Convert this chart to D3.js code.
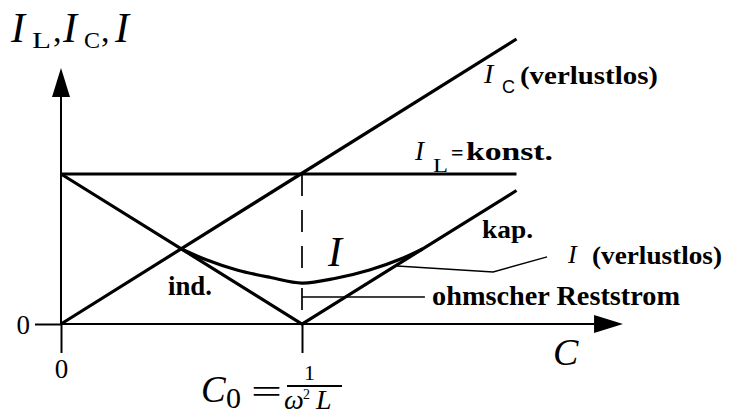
<!DOCTYPE html>
<html>
<head>
<meta charset="utf-8">
<script src="https://cdn.jsdelivr.net/npm/d3@7"></script>
<style>
  html, body { margin: 0; padding: 0; background: #fff; }
  svg { display: block; }
</style>
</head>
<body>
<svg id="chart" width="731" height="416"></svg>
<script>
// Parallel LC circuit: branch currents and total current versus capacitance C (C0 = 1).
const capEnds = [0, 1.89];                 // C range of the straight branch lines
const inductiveCurrent = [1, 1];           // I_L = konst.
const capacitiveCurrent = [0, 1.9];        // I_C (verlustlos), proportional to C
const losslessC = [0, 1, 1.89];
const losslessCurrent = [1, 0, 0.89];      // I (verlustlos) = |I_C - I_L|
const totalC = [0.5, 0.6, 0.73, 0.87, 1.0, 1.14, 1.28, 1.42, 1.5];
const totalCurrent = [0.5, 0.43, 0.36, 0.31, 0.273, 0.305, 0.36, 0.44, 0.5]; // I with ohmic losses
const residualCurrent = 0.273;             // ohmscher Reststrom at C0
const xTickValues = [0, 1];
const xTickLabels = ["0", ""];
const yTickValues = [0];
const yTickLabels = ["0"];

const svg = d3.select("#chart");
const x = d3.scaleLinear().domain([0, 1]).range([61, 302]);
const y = d3.scaleLinear().domain([0, 1]).range([324, 174]);

const SERIF = "'Liberation Serif', 'Times New Roman', serif";
const SANS = "'Liberation Sans', Arial, sans-serif";

// ---- axes ----
const xAxis = d3.axisBottom(x)
  .tickValues(xTickValues)
  .tickSize(y(-0.193) - y(0))
  .tickPadding(6)
  .tickFormat((d, i) => xTickLabels[i]);
const gx = svg.append("g").attr("transform", `translate(0,${y(0)})`).call(xAxis);
gx.select(".domain").remove();
gx.selectAll(".tick line").attr("stroke", "#000").attr("stroke-width", 2);
gx.selectAll(".tick text")
  .attr("font-family", SERIF).attr("font-size", 27).attr("fill", "#000");

const yAxis = d3.axisLeft(y)
  .tickValues(yTickValues)
  .tickSize(x(0) - x(-0.108))
  .tickPadding(5)
  .tickFormat((d, i) => yTickLabels[i]);
const gy = svg.append("g").attr("transform", `translate(${x(0)},0)`).call(yAxis);
gy.select(".domain").remove();
gy.selectAll(".tick line").attr("stroke", "#000").attr("stroke-width", 2);
gy.selectAll(".tick text")
  .attr("font-family", SERIF).attr("font-size", 27).attr("fill", "#000")
  .attr("dy", "0.36em");

const xArrowBase = 2.212, xArrowTip = 2.332;
const yArrowBase = 1.513, yArrowTip = 1.707;
const arrowHalf = 9;

svg.append("line")
  .attr("x1", x(0)).attr("x2", x(xArrowBase))
  .attr("y1", y(0)).attr("y2", y(0))
  .attr("stroke", "#000").attr("stroke-width", 2);
svg.append("path")
  .attr("d", `M${x(xArrowTip)},${y(0)} L${x(xArrowBase)},${y(0) - arrowHalf} L${x(xArrowBase)},${y(0) + arrowHalf} Z`)
  .attr("fill", "#000");

svg.append("line")
  .attr("x1", x(0)).attr("x2", x(0))
  .attr("y1", y(0)).attr("y2", y(yArrowBase))
  .attr("stroke", "#000").attr("stroke-width", 2);
svg.append("path")
  .attr("d", `M${x(0)},${y(yArrowTip)} L${x(0) - arrowHalf},${y(yArrowBase)} L${x(0) + arrowHalf},${y(yArrowBase)} Z`)
  .attr("fill", "#000");

// ---- curves ----
const line = d3.line().x(d => x(d[0])).y(d => y(d[1]));

const drawLine = (cs, vs, width, curve) => svg.append("path")
  .attr("d", line.curve(curve || d3.curveLinear)(cs.map((c, i) => [c, vs[i]])))
  .attr("fill", "none").attr("stroke", "#000")
  .attr("stroke-width", width).attr("stroke-linejoin", "miter");

drawLine(capEnds, inductiveCurrent, 3.2);
drawLine(capEnds, capacitiveCurrent, 3.2);
drawLine(losslessC, losslessCurrent, 3.2);
drawLine(totalC, totalCurrent, 3.2, d3.curveCatmullRom.alpha(0.5));

// resonance marker at C0
svg.append("line")
  .attr("x1", x(1)).attr("x2", x(1))
  .attr("y1", y(1)).attr("y2", y(residualCurrent))
  .attr("stroke", "#000").attr("stroke-width", 1.7)
  .attr("stroke-dasharray", "22,14");

// ohmic residual current marker and its leader
svg.append("line")
  .attr("x1", x(1)).attr("x2", x(1))
  .attr("y1", y(0.24)).attr("y2", y(0.093))
  .attr("stroke", "#000").attr("stroke-width", 1.7);
svg.append("line")
  .attr("x1", x(1)).attr("x2", x(1.51))
  .attr("y1", y(0.18)).attr("y2", y(0.18))
  .attr("stroke", "#000").attr("stroke-width", 1.7);

// leader to the lossless current line
const leaderC = [1.394, 1.793, 2.017];
const leaderI = [0.387, 0.347, 0.447];
drawLine(leaderC, leaderI, 1.4);

// ---- text ----
function txt(str, px, py, size, opt = {}) {
  const t = svg.append("text")
    .attr("x", px).attr("y", py)
    .attr("font-family", opt.family || SERIF)
    .attr("font-size", size)
    .attr("font-style", opt.italic ? "italic" : "normal")
    .attr("font-weight", opt.bold ? "bold" : "normal")
    .attr("fill", "#000")
    .text(str);
  if (opt.width) t.attr("textLength", opt.width).attr("lengthAdjust", "spacingAndGlyphs");
  if (opt.anchor) t.attr("text-anchor", opt.anchor);
  return t;
}

// y axis title  I_L, I_C, I
txt("I", 11, 42, 42, { italic: true });
txt("L", 32, 48, 23, { width: 19 });
txt(",", 53, 42, 34);
txt("I", 63, 42, 42, { italic: true });
txt("C", 84, 48, 23, { width: 16 });
txt(",", 101, 42, 34);
txt("I", 115, 42, 42, { italic: true });

// x axis title
txt("C", 553, 365, 38, { italic: true });

// I_C (verlustlos)
txt("I", 484, 83, 28, { italic: true });
txt("C", 502, 93, 18, { family: SANS });
txt("(verlustlos)", 520, 84, 26, { bold: true, width: 138 });

// I_L = konst.
txt("I", 415, 160, 27, { italic: true });
txt("L", 433, 172, 18, { width: 15 });
txt("=", 451, 160, 22, { bold: true });
txt("konst.", 466, 160, 26, { bold: true, width: 87 });

// region labels
txt("kap.", 482, 238, 26, { bold: true, width: 51 });
txt("ind.", 168, 295, 27, { bold: true, width: 44 });
txt("I", 328, 266, 42, { italic: true });

// I (verlustlos)
txt("I", 568, 263, 26, { italic: true });
txt("(verlustlos)", 592, 264, 26, { bold: true, width: 130 });

// ohmscher Reststrom
txt("ohmscher Reststrom", 432, 305, 27, { bold: true, width: 248 });

// C0 = 1 / (omega^2 L)
txt("C", 201, 402, 37, { italic: true });
txt("0", 226, 408, 30);
txt("=", 251, 403, 34, { width: 31 });
svg.append("line")
  .attr("x1", 287).attr("x2", 342).attr("y1", 386).attr("y2", 386)
  .attr("stroke", "#000").attr("stroke-width", 2);
txt("1", 309.5, 380, 22, { anchor: "middle" });
txt("\u03C9", 284, 409, 28, { italic: true });
txt("2", 303, 399, 14);
txt("L", 316, 409, 28, { italic: true });
</script>
</body>
</html>
